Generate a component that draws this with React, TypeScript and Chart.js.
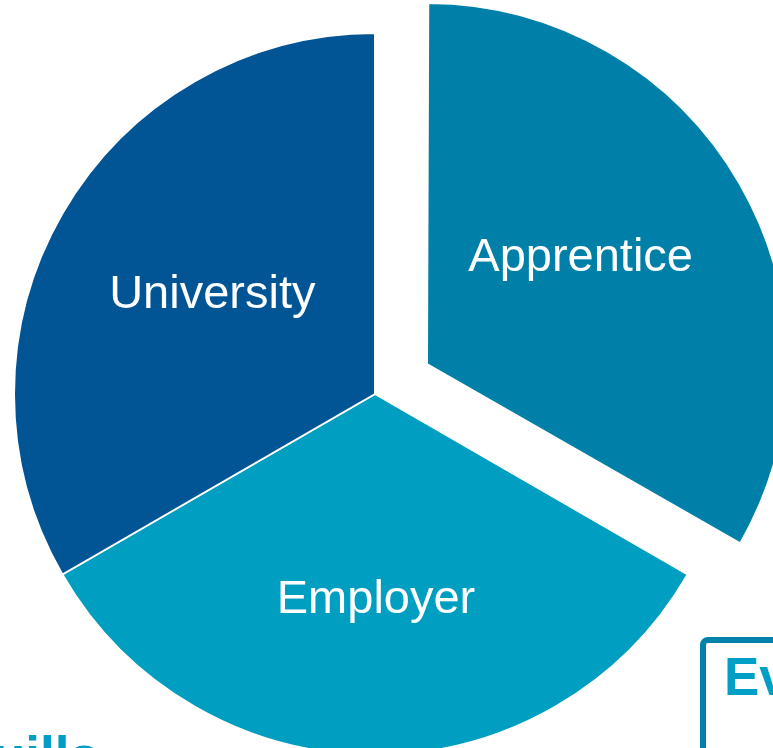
import React, { useEffect, useRef } from 'react';
import { Chart, registerables } from 'chart.js';

Chart.register(...registerables);

const CATEGORIES = ['Apprentice', 'Employer', 'University'];
const SHARES = [1, 1, 1];
const SLICE_COLORS = ['#0080A8', '#009EC0', '#015595'];
const EXPLODED = [true, false, false];

const FONT = '"Liberation Sans", Arial, Helvetica, sans-serif';
const RADIUS = 361;
const EXPLODE_PX = 60;
const LABEL_NUDGES = [
  [-12, -14],
  [1, 11],
  [3, -7],
];

// Chart.js enlarges an offset arc's radius slightly; keep the exploded slice the same size as the others.
const radiusFixPlugin = {
  id: 'radiusFix',
  afterDatasetsUpdate(chart: any) {
    const meta = chart.getDatasetMeta(0);
    meta.data.forEach((arc: any) => {
      const off = (arc.options.offset || 0) / 4;
      if (!off) return;
      const fix = 1 - Math.sin(Math.min(Math.PI, arc.circumference || 0));
      arc.outerRadius = RADIUS - off * fix;
    });
  },
};

const labelPlugin = {
  id: 'sliceLabels',
  afterDatasetsDraw(chart: any) {
    const ctx = chart.ctx;
    const meta = chart.getDatasetMeta(0);
    ctx.save();
    ctx.font = `47px ${FONT}`;
    ctx.fillStyle = '#ffffff';
    ctx.textAlign = 'center';
    ctx.textBaseline = 'alphabetic';
    meta.data.forEach((arc: any, i: number) => {
      const { x, y, startAngle, endAngle } = arc.getProps(['x', 'y', 'startAngle', 'endAngle'], true);
      const mid = (startAngle + endAngle) / 2;
      const off = (arc.options.offset || 0) / 4;
      const r = RADIUS * 0.53;
      const cx = x + Math.cos(mid) * (off + r) + LABEL_NUDGES[i][0];
      const cy = y + Math.sin(mid) * (off + r) + LABEL_NUDGES[i][1];
      ctx.fillText(chart.data.labels[i], cx, cy + 17);
    });
    ctx.restore();
  },
};

const decorPlugin = {
  id: 'slideDecor',
  afterDraw(chart: any) {
    const ctx = chart.ctx;
    ctx.save();
    ctx.strokeStyle = '#0082AA';
    ctx.lineWidth = 6;
    ctx.beginPath();
    (ctx as any).roundRect(703, 640, 220, 220, 5);
    ctx.stroke();
    ctx.fillStyle = '#00A0C6';
    ctx.font = `bold 53px ${FONT}`;
    ctx.textAlign = 'left';
    ctx.textBaseline = 'alphabetic';
    ctx.fillText('Ev', 724, 695);
    ctx.fillStyle = '#009EC4';
    ctx.fillText('uills', -7, 774);
    ctx.restore();
  },
};

export default function App() {
  const ref = useRef<HTMLCanvasElement | null>(null);

  useEffect(() => {
    if (!ref.current) return;
    const chart = new Chart(ref.current, {
      type: 'pie',
      data: {
        labels: CATEGORIES,
        datasets: [
          {
            data: SHARES,
            backgroundColor: SLICE_COLORS,
            borderColor: '#ffffff',
            borderWidth: 2,
            offset: EXPLODED.map((e) => (e ? EXPLODE_PX * 4 : 0)),
            radius: RADIUS,
            clip: false,
          } as any,
        ],
      },
      options: {
        responsive: false,
        animation: false,
        layout: { padding: { left: 0, right: 23, top: 40, bottom: 0 } },
        plugins: {
          legend: { display: false },
          tooltip: { enabled: false },
        },
      },
      plugins: [radiusFixPlugin, labelPlugin, decorPlugin],
    });
    return () => chart.destroy();
  }, []);

  return (
    <div
      style={{
        position: 'fixed',
        left: 0,
        top: 0,
        width: 773,
        height: 748,
        overflow: 'hidden',
        background: '#ffffff',
      }}
    >
      <canvas ref={ref} width={773} height={748} style={{ display: 'block' }} />
    </div>
  );
}
